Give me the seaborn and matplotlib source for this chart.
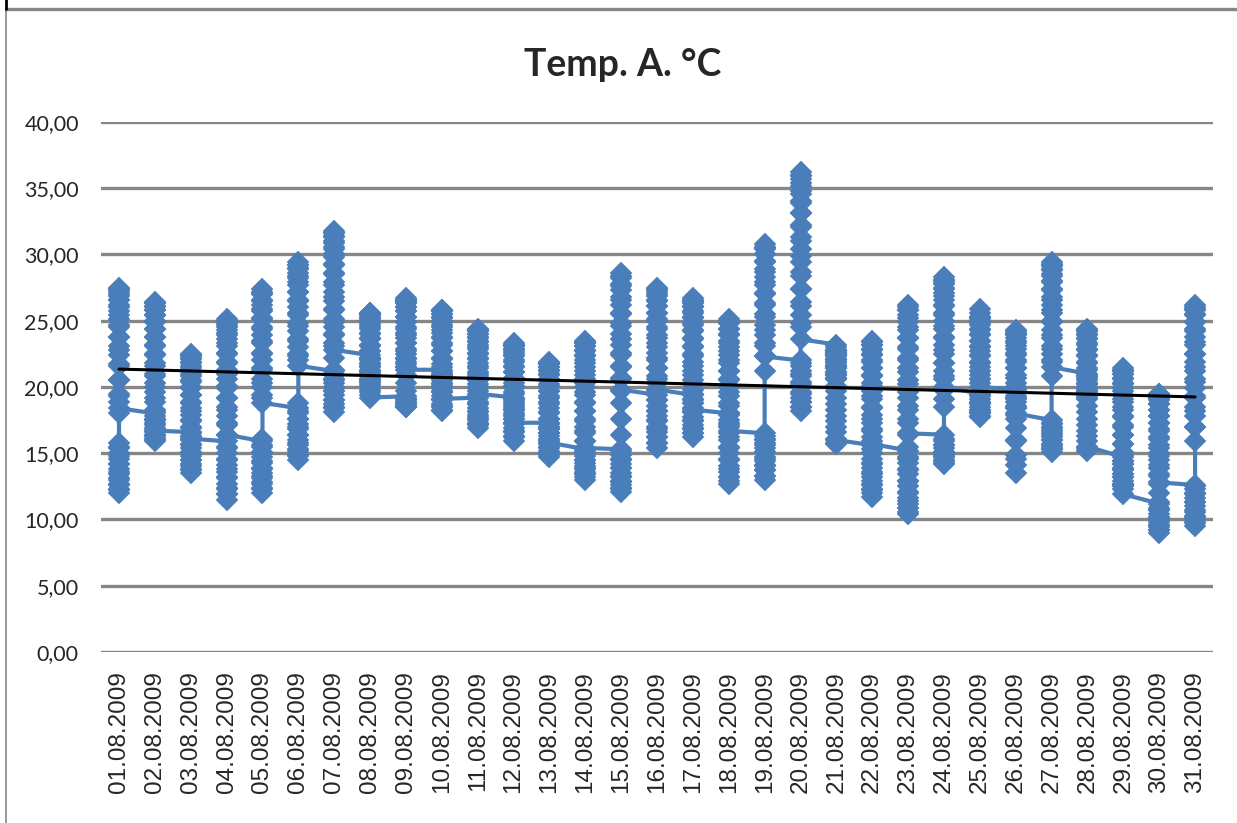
"""Temp. A. °C - August 2009 readings per day, with linear trend."""
import matplotlib
matplotlib.use("Agg")
import matplotlib.pyplot as plt
from matplotlib.lines import Line2D
import pandas as pd
import seaborn as sns

DATES = [
    "01.08.2009", "02.08.2009", "03.08.2009", "04.08.2009", "05.08.2009",
    "06.08.2009", "07.08.2009", "08.08.2009", "09.08.2009", "10.08.2009",
    "11.08.2009", "12.08.2009", "13.08.2009", "14.08.2009", "15.08.2009",
    "16.08.2009", "17.08.2009", "18.08.2009", "19.08.2009", "20.08.2009",
    "21.08.2009", "22.08.2009", "23.08.2009", "24.08.2009", "25.08.2009",
    "26.08.2009", "27.08.2009", "28.08.2009", "29.08.2009", "30.08.2009",
    "31.08.2009",
]

# readings through each day (roughly every 30 min)
aug01 = [15.8, 15.4, 15.0, 14.6, 14.2, 13.8, 13.4, 13.0, 12.7, 12.3, 12.0, 12.2,
         12.6, 13.1, 13.6, 14.2, 14.8, 15.5, 18.0, 19.3, 20.5, 21.7, 22.8, 23.8,
         24.7, 25.4, 26.0, 26.6, 27.0, 27.3, 27.5, 27.4, 27.2, 26.9, 26.6, 26.2,
         25.7, 25.1, 24.5, 23.8, 23.1, 22.4, 21.6, 20.5, 19.5, 18.9, 18.4]
aug02 = [18.0, 17.8, 17.6, 17.3, 17.1, 16.8, 16.6, 16.4, 16.2, 16.0, 15.9, 16.1,
         16.4, 16.9, 17.5, 18.2, 18.9, 19.6, 20.3, 21.0, 21.8, 22.5, 23.2, 23.8,
         24.4, 25.0, 25.4, 25.8, 26.0, 26.3, 26.4, 26.3, 26.1, 25.8, 25.4, 24.9,
         24.4, 23.8, 23.1, 22.4, 21.6, 20.8, 20.0, 19.2, 18.3, 17.5, 16.7]
aug03 = [16.6, 16.3, 16.0, 15.7, 15.4, 15.1, 14.8, 14.5, 14.2, 13.8, 13.5, 13.7,
         14.0, 14.5, 15.0, 15.6, 16.2, 16.9, 17.5, 18.2, 18.8, 19.4, 20.0, 20.5,
         21.0, 21.4, 21.8, 22.1, 22.3, 22.4, 22.5, 22.4, 22.2, 21.9, 21.6, 21.2,
         20.8, 20.4, 19.9, 19.4, 18.9, 18.4, 17.9, 17.4, 17.0, 16.5, 16.1]
aug04 = [15.9, 15.4, 15.0, 14.5, 14.1, 13.6, 13.2, 12.7, 12.3, 11.9, 11.5, 11.9,
         12.4, 13.1, 13.8, 14.6, 15.5, 16.4, 17.3, 18.3, 19.2, 20.1, 21.0, 21.8,
         22.6, 23.3, 23.9, 24.3, 24.7, 24.9, 25.1, 25.0, 24.8, 24.5, 24.1, 23.6,
         23.1, 22.5, 21.9, 21.3, 20.6, 19.9, 19.2, 18.5, 17.8, 17.1, 16.4]
aug05 = [15.9, 15.5, 15.1, 14.7, 14.3, 13.9, 13.5, 13.1, 12.7, 12.3, 12.0, 12.4,
         12.8, 13.3, 13.8, 14.4, 15.0, 15.6, 16.1, 19.2, 20.3, 21.4, 22.5, 23.5,
         24.4, 25.2, 25.9, 26.5, 27.0, 27.4, 27.2, 27.0, 26.6, 26.2, 25.7, 25.1,
         24.5, 23.9, 23.3, 22.6, 22.0, 21.3, 20.6, 20.0, 19.4, 18.8]
aug06 = [18.4, 18.0, 17.6, 17.2, 16.8, 16.4, 16.0, 15.6, 15.2, 14.8, 14.5, 14.9,
         15.3, 15.8, 16.4, 17.0, 17.6, 18.2, 18.8, 22.3, 23.5, 24.6, 25.6, 26.5,
         27.2, 27.9, 28.4, 28.9, 29.2, 29.4, 29.2, 29.0, 28.6, 28.2, 27.7, 27.2,
         26.6, 26.0, 25.4, 24.8, 24.2, 23.6, 23.0, 22.5, 22.0, 21.6]
aug07 = [21.2, 20.9, 20.6, 20.3, 20.0, 19.7, 19.4, 19.0, 18.7, 18.4, 18.1, 18.5,
         19.0, 19.7, 20.5, 21.3, 22.2, 23.1, 24.0, 24.9, 25.9, 26.8, 27.7, 28.5,
         29.3, 30.0, 30.6, 31.0, 31.4, 31.6, 31.8, 31.6, 31.3, 30.9, 30.4, 29.8,
         29.2, 28.6, 27.9, 27.2, 26.5, 25.8, 25.1, 24.5, 23.9, 23.3, 22.8]
aug08 = [22.4, 22.2, 22.0, 21.7, 21.5, 21.2, 21.0, 20.8, 20.6, 20.4, 20.2, 20.4,
         20.6, 21.1, 21.6, 22.1, 22.7, 23.2, 23.7, 24.1, 24.5, 24.8, 25.1, 25.3,
         25.5, 25.6, 25.6, 25.5, 25.4, 25.2, 25.0, 24.7, 24.4, 24.0, 23.6, 23.1,
         22.7, 22.2, 21.8, 21.3, 20.9, 20.5, 20.1, 19.8, 19.6, 19.4, 19.2]
aug09 = [19.3, 19.1, 19.0, 18.9, 18.8, 18.7, 18.6, 18.5, 18.5, 18.6, 18.8, 19.2,
         19.7, 20.3, 20.9, 21.5, 22.1, 22.7, 23.3, 23.9, 24.4, 24.9, 25.3, 25.7,
         26.0, 26.3, 26.5, 26.6, 26.7, 26.6, 26.5, 26.3, 26.0, 25.7, 25.3, 24.9,
         24.5, 24.1, 23.7, 23.3, 22.9, 22.5, 22.2, 21.9, 21.7, 21.5, 21.3]
aug10 = [21.3, 21.0, 20.8, 20.5, 20.2, 19.9, 19.6, 19.3, 19.0, 18.7, 18.5, 18.3,
         18.2, 18.6, 19.1, 19.7, 20.3, 20.9, 21.5, 22.1, 22.7, 23.3, 23.8, 24.3,
         24.7, 25.0, 25.3, 25.5, 25.7, 25.8, 25.8, 25.7, 25.5, 25.2, 24.9, 24.5,
         24.1, 23.7, 23.2, 22.7, 22.2, 21.7, 21.1, 20.6, 20.1, 19.6, 19.1]
aug11 = [19.2, 18.9, 18.7, 18.4, 18.2, 17.9, 17.7, 17.5, 17.3, 17.1, 16.9, 17.2,
         17.6, 18.1, 18.7, 19.3, 19.9, 20.5, 21.0, 21.6, 22.1, 22.6, 23.0, 23.4,
         23.7, 24.0, 24.2, 24.3, 24.4, 24.3, 24.2, 24.0, 23.8, 23.5, 23.2, 22.9,
         22.5, 22.2, 21.8, 21.4, 21.1, 20.8, 20.5, 20.2, 20.0, 19.7, 19.5]
aug12 = [19.2, 18.9, 18.6, 18.3, 18.0, 17.6, 17.3, 16.9, 16.6, 16.2, 15.9, 16.3,
         16.7, 17.2, 17.8, 18.4, 19.0, 19.6, 20.1, 20.6, 21.1, 21.6, 22.0, 22.4,
         22.7, 22.9, 23.1, 23.2, 23.3, 23.2, 23.1, 22.9, 22.6, 22.3, 21.9, 21.5,
         21.1, 20.7, 20.3, 19.9, 19.5, 19.1, 18.7, 18.3, 17.9, 17.6, 17.3]
aug13 = [17.3, 17.0, 16.8, 16.5, 16.3, 16.0, 15.7, 15.5, 15.2, 14.9, 14.7, 15.0,
         15.4, 15.9, 16.5, 17.0, 17.6, 18.1, 18.7, 19.2, 19.7, 20.2, 20.6, 21.0,
         21.3, 21.5, 21.7, 21.8, 21.9, 21.8, 21.7, 21.5, 21.2, 20.9, 20.5, 20.1,
         19.7, 19.3, 18.9, 18.4, 18.0, 17.6, 17.2, 16.8, 16.5, 16.1, 15.8]
aug14 = [15.3, 15.0, 14.8, 14.5, 14.3, 14.0, 13.8, 13.6, 13.4, 13.2, 13.0, 13.4,
         13.9, 14.5, 15.2, 15.9, 16.7, 17.4, 18.2, 18.9, 19.6, 20.3, 20.9, 21.5,
         22.0, 22.4, 22.8, 23.1, 23.3, 23.4, 23.5, 23.3, 23.1, 22.7, 22.3, 21.8,
         21.2, 20.6, 20.0, 19.4, 18.8, 18.2, 17.6, 17.0, 16.5, 15.9, 15.4]
aug15 = [15.3, 14.9, 14.6, 14.2, 13.9, 13.5, 13.2, 12.9, 12.6, 12.3, 12.1, 12.4,
         12.8, 13.3, 13.9, 14.5, 15.2, 16.4, 17.6, 18.8, 19.7, 20.6, 21.6, 22.6,
         23.6, 24.6, 25.6, 26.6, 27.6, 28.6, 28.4, 28.2, 27.8, 27.3, 26.8, 26.2,
         25.5, 24.8, 24.0, 23.2, 22.4, 21.5, 20.7, 19.8]
aug16 = [19.4, 19.0, 18.6, 18.2, 17.8, 17.4, 17.0, 16.6, 16.2, 15.8, 15.4, 15.8,
         16.2, 16.8, 17.5, 18.2, 19.0, 19.8, 20.6, 21.4, 22.2, 23.0, 23.7, 24.4,
         25.0, 25.6, 26.1, 26.6, 27.0, 27.3, 27.5, 27.4, 27.2, 26.9, 26.5, 26.1,
         25.6, 25.1, 24.5, 23.9, 23.3, 22.6, 22.0, 21.4, 20.8, 20.3, 19.8]
aug17 = [19.4, 19.1, 18.8, 18.4, 18.1, 17.7, 17.4, 17.1, 16.8, 16.5, 16.2, 16.5,
         16.9, 17.5, 18.1, 18.8, 19.5, 20.2, 20.9, 21.6, 22.3, 23.0, 23.6, 24.2,
         24.7, 25.2, 25.6, 26.0, 26.3, 26.5, 26.7, 26.6, 26.4, 26.1, 25.7, 25.3,
         24.8, 24.3, 23.7, 23.1, 22.5, 21.9, 21.2, 20.5, 19.8, 19.0, 18.3]
aug18 = [18.0, 17.5, 17.0, 16.5, 16.0, 15.5, 15.0, 14.5, 14.0, 13.6, 13.2, 12.9,
         12.7, 13.2, 13.8, 14.6, 15.4, 16.2, 17.1, 17.9, 18.8, 19.6, 20.5, 21.2,
         22.0, 22.7, 23.3, 23.9, 24.4, 24.8, 25.1, 25.0, 24.8, 24.4, 24.0, 23.5,
         23.0, 22.4, 21.8, 21.2, 20.6, 20.0, 19.3, 18.6, 18.0, 17.3, 16.7]
aug19 = [16.5, 16.1, 15.8, 15.4, 15.1, 14.7, 14.4, 14.0, 13.7, 13.3, 13.0, 13.3,
         13.7, 14.1, 14.6, 15.1, 15.6, 16.0, 16.3, 21.2, 22.3, 23.3, 24.3, 25.3,
         26.2, 27.1, 27.9, 28.7, 29.4, 30.0, 30.5, 30.8, 30.6, 30.4, 30.0, 29.5,
         28.9, 28.3, 27.7, 27.0, 26.3, 25.5, 24.7, 23.9, 23.1, 22.3]
aug20 = [22.0, 21.6, 21.2, 20.8, 20.4, 20.0, 19.6, 19.2, 18.9, 18.5, 18.2, 18.5,
         18.9, 19.5, 20.2, 21.0, 21.8, 24.8, 26.1, 27.4, 28.7, 29.9, 31.0, 32.1,
         33.1, 34.0, 34.8, 35.4, 35.9, 36.2, 36.0, 35.7, 35.2, 34.6, 33.9, 33.1,
         32.2, 31.3, 30.4, 29.4, 28.4, 27.4, 26.4, 25.4, 24.5, 23.6]
aug21 = [23.2, 23.0, 22.8, 22.6, 22.4, 22.1, 21.9, 21.6, 21.4, 21.1, 20.9, 20.7,
         20.6, 20.7, 20.9, 21.1, 21.4, 21.6, 21.9, 22.1, 22.3, 22.5, 22.6, 22.7,
         22.8, 22.8, 22.7, 22.5, 22.3, 22.0, 21.7, 21.4, 21.0, 20.6, 20.1, 19.7,
         19.2, 18.7, 18.3, 17.8, 17.4, 17.0, 16.6, 16.1, 15.7, 15.8, 16.0]
aug22 = [15.6, 15.3, 15.0, 14.6, 14.3, 13.9, 13.6, 13.2, 12.9, 12.6, 12.3, 12.0,
         11.7, 12.2, 12.7, 13.4, 14.2, 15.0, 15.9, 16.7, 17.6, 18.4, 19.3, 20.1,
         20.8, 21.4, 22.0, 22.5, 22.9, 23.2, 23.5, 23.4, 23.2, 22.8, 22.4, 21.9,
         21.4, 20.9, 20.3, 19.7, 19.1, 18.5, 17.9, 17.3, 16.8, 16.2, 15.7]
aug23 = [15.2, 14.7, 14.3, 13.8, 13.4, 12.9, 12.5, 12.0, 11.6, 11.2, 10.9, 10.6,
         10.4, 10.9, 11.4, 12.1, 12.9, 13.7, 14.6, 15.5, 16.4, 17.3, 18.3, 19.2,
         20.2, 21.1, 22.0, 22.9, 23.7, 24.5, 25.2, 25.8, 26.2, 26.0, 25.8, 25.4,
         24.9, 24.3, 23.7, 23.0, 22.2, 21.4, 20.5, 19.6, 18.6, 17.6, 16.5]
aug24 = [16.4, 16.1, 15.9, 15.6, 15.4, 15.1, 14.9, 14.7, 14.5, 14.3, 14.2, 14.4,
         14.7, 15.1, 15.6, 18.5, 19.1, 19.8, 20.8, 21.8, 22.8, 23.7, 24.6, 25.4,
         26.2, 26.9, 27.4, 27.8, 28.1, 28.3, 28.1, 27.9, 27.5, 27.1, 26.6, 26.1,
         25.6, 25.0, 24.4, 23.8, 23.2, 22.5, 21.8, 21.2, 20.6, 20.0]
aug25 = [19.5, 19.3, 19.1, 18.9, 18.7, 18.5, 18.3, 18.1, 18.0, 17.8, 17.7, 18.0,
         18.3, 18.8, 19.4, 20.0, 20.6, 21.2, 21.8, 22.4, 23.0, 23.5, 24.0, 24.4,
         24.8, 25.1, 25.3, 25.9, 25.6, 25.3, 25.0, 24.7, 24.3, 23.9, 23.5, 23.1,
         22.7, 22.3, 21.9, 21.5, 21.2, 20.9, 20.6, 20.3, 20.0]
aug26 = [19.8, 19.3, 18.9, 18.4, 17.9, 16.9, 15.9, 14.9, 14.1, 13.5, 14.6, 16.0,
         17.6, 18.4, 19.2, 20.0, 20.7, 21.4, 22.0, 22.6, 23.1, 23.5, 23.9, 24.1,
         24.3, 24.2, 24.0, 23.7, 23.3, 22.9, 22.4, 21.9, 21.4, 20.9, 20.3, 19.7,
         19.1, 18.6, 18.0]
aug27 = [17.5, 17.2, 17.0, 16.7, 16.5, 16.2, 16.0, 15.7, 15.5, 15.3, 15.1, 15.3,
         15.6, 16.0, 16.4, 16.8, 17.3, 20.8, 21.9, 22.9, 23.9, 24.9, 25.8, 26.6,
         27.3, 28.0, 28.5, 28.9, 29.2, 29.4, 29.3, 29.1, 28.8, 28.4, 27.9, 27.4,
         26.8, 26.2, 25.6, 25.0, 24.3, 23.7, 23.1, 22.5, 22.0, 21.5]
aug28 = [21.0, 20.7, 20.5, 20.2, 20.0, 19.8, 19.6, 19.4, 19.2, 19.3, 19.5, 19.9,
         20.3, 20.8, 21.3, 21.8, 22.3, 22.8, 23.2, 23.6, 23.9, 24.2, 24.4, 24.3,
         24.2, 24.0, 23.7, 23.3, 22.9, 22.4, 21.9, 21.4, 20.8, 20.2, 19.7, 19.1,
         18.6, 18.1, 17.6, 17.1, 16.7, 16.3, 15.9, 15.5, 15.2, 15.3, 15.5]
aug29 = [14.7, 14.4, 14.2, 13.9, 13.7, 13.4, 13.2, 12.9, 12.7, 12.5, 12.3, 12.5,
         12.7, 13.2, 13.8, 14.4, 15.1, 15.7, 16.4, 17.0, 17.7, 18.3, 18.9, 19.4,
         19.9, 20.3, 20.7, 21.0, 21.2, 21.3, 21.4, 21.2, 21.0, 20.6, 20.2, 19.7,
         19.1, 18.5, 17.8, 17.1, 16.4, 15.7, 14.9, 14.2, 13.4, 12.6, 11.9]
aug30 = [11.2, 10.9, 10.7, 10.4, 10.2, 10.0, 9.8, 9.6, 9.4, 9.2, 9.0, 9.2,
         9.6, 10.1, 10.7, 11.3, 12.0, 12.7, 13.4, 14.1, 14.8, 15.4, 16.1, 16.7,
         17.3, 17.8, 18.3, 18.7, 19.0, 19.2, 19.4, 19.5, 19.5, 19.3, 19.1, 18.7,
         18.3, 17.8, 17.3, 16.8, 16.2, 15.6, 15.0, 14.5, 13.9, 13.3, 12.8]
aug31 = [12.6, 12.3, 12.0, 11.6, 11.3, 11.0, 10.6, 10.3, 10.0, 9.7, 9.5, 9.8,
         10.2, 10.7, 11.3, 11.9, 12.5, 15.9, 17.0, 18.2, 19.3, 20.4, 21.5, 22.5,
         23.4, 24.2, 24.9, 25.5, 25.9, 26.2, 26.0, 25.8, 25.4, 24.9, 24.4, 23.8,
         23.2, 22.5, 21.9, 21.2, 20.6, 19.9, 19.2, 18.5, 17.8, 17.0]

DAILY = [aug01, aug02, aug03, aug04, aug05, aug06, aug07, aug08, aug09, aug10,
         aug11, aug12, aug13, aug14, aug15, aug16, aug17, aug18, aug19, aug20,
         aug21, aug22, aug23, aug24, aug25, aug26, aug27, aug28, aug29, aug30,
         aug31]

YTICKS = [0, 5, 10, 15, 20, 25, 30, 35, 40]

BLUE = "#4A7EBB"
GRID = "#868686"


def main():
    rows = [(i, v) for i, vals in enumerate(DAILY) for v in vals]
    df = pd.DataFrame(rows, columns=["day", "temp"])

    sns.set_style("white")
    fig = plt.figure(figsize=(12.37, 8.23), dpi=100)
    ax = fig.add_axes([0.0817, 0.2078, 0.8989, 0.644])

    sns.lineplot(
        data=df, x="day", y="temp", estimator=None, sort=False,
        color=BLUE, lw=3, marker="D", markersize=11.2,
        markeredgecolor=BLUE, markeredgewidth=0.3, ax=ax, zorder=3,
    )
    sns.regplot(
        data=df, x="day", y="temp", scatter=False, ci=None, truncate=True,
        color="black", line_kws={"lw": 2.2, "zorder": 4}, ax=ax,
    )

    ax.set_xlim(-0.5, len(DATES) - 0.5)
    ax.set_ylim(0, 40)
    ax.set_yticks(YTICKS)
    ax.set_yticklabels([f"{t:.2f}".replace(".", ",") for t in YTICKS],
                       family=["Lato", "DejaVu Sans"], fontsize=15.5)
    ax.set_xticks(range(len(DATES)))
    ax.set_xticklabels(DATES, rotation=90, family="Liberation Sans",
                       fontsize=17.5)
    ax.tick_params(axis="y", length=0, pad=16)
    ax.tick_params(axis="x", length=0, pad=14)
    ax.yaxis.grid(True, color=GRID, lw=2.4)
    ax.xaxis.grid(False)
    ax.set_axisbelow(True)
    for s in ax.spines.values():
        s.set_visible(False)
    ax.set_xlabel("")
    ax.set_ylabel("")

    fig.text(0.503, 0.921, "Temp. A. °C", ha="center", va="center",
             fontsize=27, fontweight="bold", family=["Lato", "DejaVu Sans"])

    # chart frame pieces visible in the crop
    fig.add_artist(Line2D([0.0045, 0.0045], [0.0, 0.989], color=GRID, lw=1.2))
    fig.add_artist(Line2D([0.0045, 1.0], [0.989, 0.989], color=GRID, lw=2.4))
    fig.add_artist(Line2D([0.0048, 0.0048], [0.989, 1.0], color="black", lw=2))

    fig.savefig("out.png", dpi=100)
    plt.close(fig)


if __name__ == "__main__":
    main()
